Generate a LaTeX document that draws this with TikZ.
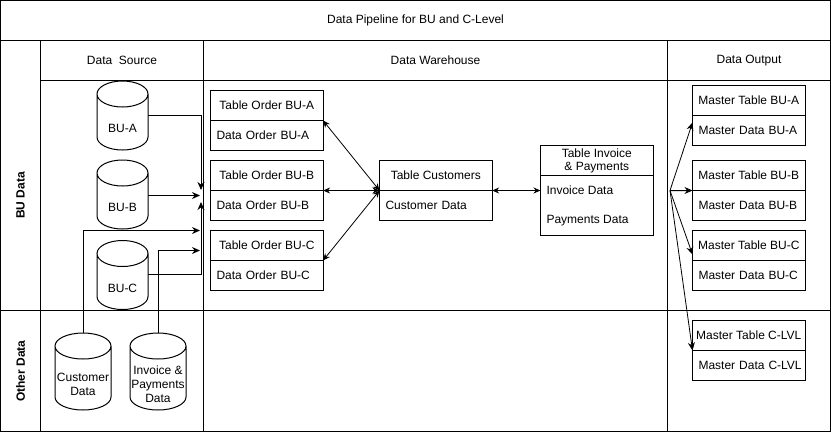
\documentclass[tikz,border=0pt]{standalone}
\usepackage{fontspec}
\setmainfont{Liberation Sans}
\usetikzlibrary{arrows.meta,calc}
\newcommand\dbcyl[7]{%
  \node[minimum width=#4bp, minimum height=#5bp, anchor=north west] (#1) at (#2,#3) {};
  \draw[fill=white] (#2,#3+#6) -- (#2,#3+#5-#6)
    arc[start angle=180,end angle=360,x radius={0.5*#4bp},y radius=#6bp]
    -- (#2+#4,#3+#6)
    arc[start angle=0,end angle=180,x radius={0.5*#4bp},y radius=#6bp]
    arc[start angle=180,end angle=360,x radius={0.5*#4bp},y radius=#6bp];
  \node[align=center] (#1-t) at (#2+0.5*#4, #3+#6+0.5*#5) {#7};
}
\begin{document}
\begin{tikzpicture}[x=1bp,y=-1bp,line width=1bp,
  every node/.style={font=\fontsize{12bp}{14bp}\selectfont, inner sep=0pt, outer sep=0pt},
  lane/.style={font=\fontsize{12bp}{14bp}\selectfont\bfseries, rotate=90},
  tabh/.style={draw, fill=white, anchor=north west, minimum width=112.6bp, minimum height=30bp, align=center},
  tabd/.style={draw, fill=white, anchor=north west, minimum width=112.6bp, minimum height=30bp, text width=106.6bp, align=left, execute at begin node={\hspace*{3bp}}},
  arr/.style={-{Stealth[length=8bp,width=7bp]}},
  darr/.style={{Stealth[length=7bp,width=6bp]}-{Stealth[length=7bp,width=6bp]}}]
\useasboundingbox (0,0) rectangle (831,432);
% frame and swimlanes
\draw (0.5,0.5) rectangle (830.5,431.5);
\draw (0.5,40.5) -- (830.5,40.5);
\draw (40.5,80.5) -- (830.5,80.5);
\draw (0.5,310.5) -- (830.5,310.5);
\draw (40.5,40.5) -- (40.5,431.5);
\draw (203.5,40.5) -- (203.5,431.5);
\draw (667.5,40.5) -- (667.5,431.5);
\node (title) at (415.5,20.5) {Data Pipeline for BU and C-Level};
\node (hsrc) at (122,60.5) {Data\ \ Source};
\node (hwh) at (435.5,60.5) {Data Warehouse};
\node (hout) at (749,60.5) {Data Output};
\node[lane] (lbu) at (20.5,195.5) {BU Data};
\node[lane] (loth) at (20.5,371) {Other Data};
% cylinders
\dbcyl{bua}{97}{81}{51}{69}{13}{BU-A}
\dbcyl{bub}{97}{160}{51}{69}{13}{BU-B}
\dbcyl{buc}{97}{240.5}{51}{69}{13}{BU-C}
\dbcyl{cust}{55}{333}{56}{77}{13}{Customer\\Data}
\dbcyl{invp}{130}{333}{56}{77}{13}{Invoice \&\\Payments\\Data}
% warehouse tables
\node[tabh] (toa-h) at (210.5,90.5) {Table Order BU-A};
\node[tabd] (toa-d) at (toa-h.south west) {Data Order BU-A};
\node[tabh] (tob-h) at (210.5,160.5) {Table Order BU-B};
\node[tabd] (tob-d) at (tob-h.south west) {Data Order BU-B};
\node[tabh] (toc-h) at (210.5,230.5) {Table Order BU-C};
\node[tabd] (toc-d) at (toc-h.south west) {Data Order BU-C};
\node[tabh] (cus-h) at (379.5,160.5) {Table Customers};
\node[tabd] (cus-d) at (cus-h.south west) {Customer Data};
\node[tabh, font=\fontsize{12bp}{13bp}\selectfont] (inv-h) at (540.5,145.5) {Table Invoice\\\& Payments};
\node[draw, fill=white, anchor=north west, minimum width=112.6bp, minimum height=60bp] (inv-d) at (inv-h.south west) {};
\node[anchor=west] (inv-1) at (546.5,190.5) {Invoice Data};
\node[anchor=west] (inv-2) at (546.5,220.5) {Payments Data};
% output tables
\node[tabh] (moa-h) at (692.5,85.5) {Master Table BU-A};
\node[tabd] (moa-d) at (moa-h.south west) {Master Data BU-A};
\node[tabh] (mob-h) at (692.5,160.5) {Master Table BU-B};
\node[tabd] (mob-d) at (mob-h.south west) {Master Data BU-B};
\node[tabh] (moc-h) at (692.5,230.5) {Master Table BU-C};
\node[tabd] (moc-d) at (moc-h.south west) {Master Data BU-C};
\node[tabh] (mcl-h) at (692.5,320.5) {Master Table C-LVL};
\node[tabd] (mcl-d) at (mcl-h.south west) {Master Data C-LVL};
% data source connectors
\coordinate (ta) at (201,190);
\coordinate (tb) at (200,195.5);
\coordinate (tcu) at (200,230.5);
\coordinate (tin) at (200,250.5);
\coordinate (tc) at (201,202);
\draw[arr] (bua.east |- 0,115.5) -| (ta);
\draw[arr] (bub.east |- tb) -- (tb);
\draw[arr] (buc.east |- 0,274.5) -| (tc);
\draw[arr] (cust.north) |- (tcu);
\draw[arr] (invp.north) |- (tin);
% warehouse connectors
\draw[darr, line width=0.8bp] (toa-h.south east) -- (cus-h.south west);
\draw[darr, line width=0.8bp] (tob-h.south east) -- (cus-h.south west);
\draw[darr, line width=0.8bp] (toc-h.south east) -- (cus-h.south west);
\draw[darr] (cus-h.south east) -- (cus-h.south east -| inv-d.west);
% output fan
\coordinate (fan) at (670,190.5);
\draw[arr, line width=0.8bp] (fan) -- ($(moa-h.south west)+(0,7)$);
\draw[arr] (fan) -- (mob-h.south west);
\draw[arr, line width=0.8bp] (fan) -- ($(moc-h.south west)+(0,-6)$);
\draw[arr, line width=0.8bp] (fan) -- (mcl-h.south west);
\end{tikzpicture}
\end{document}
